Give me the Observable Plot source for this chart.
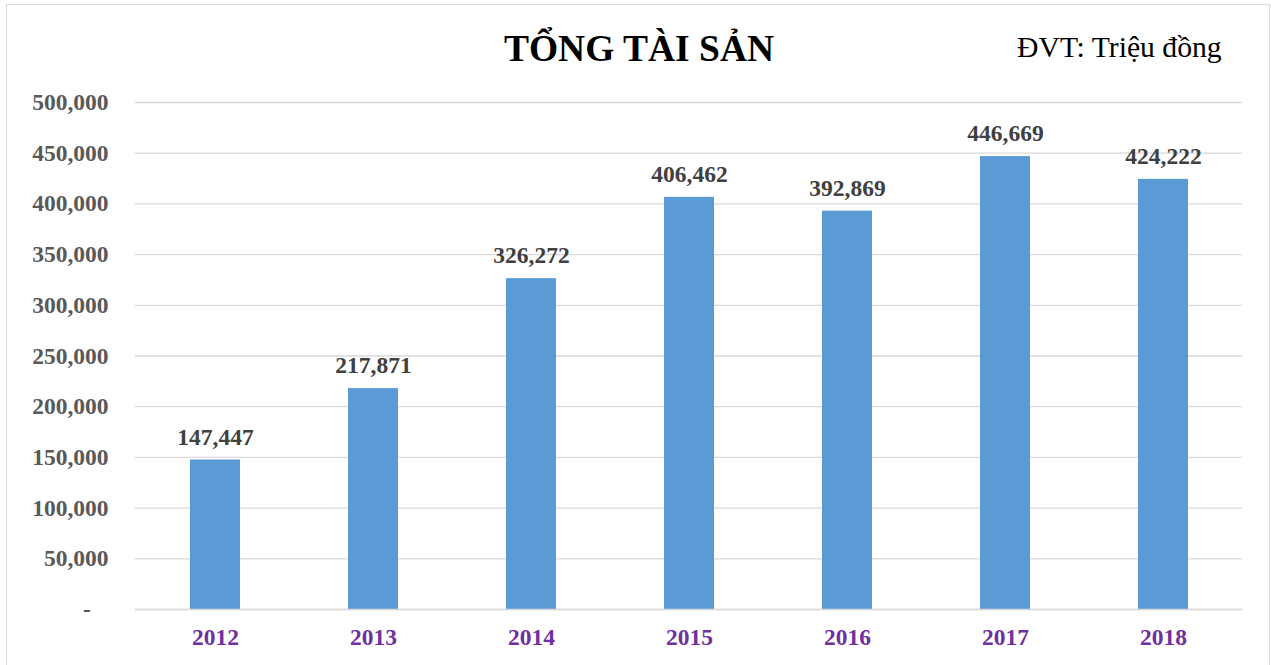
<!DOCTYPE html>
<html><head><meta charset="utf-8">
<script src="https://cdn.jsdelivr.net/npm/d3@7"></script>
<script src="https://cdn.jsdelivr.net/npm/@observablehq/plot@0.6"></script>
<style>
body{margin:0;background:#fff}
#wrap{position:relative;width:1271px;height:665px;overflow:hidden;font-family:"Liberation Serif","Times New Roman",serif}
#frame{position:absolute;left:6px;top:4px;width:1264px;height:720px;border:1.5px solid #d9d9d9;box-sizing:border-box;pointer-events:none}
#title{position:absolute;left:639px;top:30px;transform:translateX(-50%);font-size:37.5px;font-weight:bold;line-height:1;color:#000;white-space:nowrap}
#unit{position:absolute;left:1017px;top:33px;font-size:29.7px;line-height:1;color:#000;white-space:nowrap}
#chart{position:absolute;left:0;top:0}
</style></head>
<body>
<div id="wrap">
<div id="chart"></div>
<div id="title">TỔNG TÀI SẢN</div>
<div id="unit">ĐVT: Triệu đồng</div>
<div id="frame"></div>
</div>
<script>
const years = ["2012","2013","2014","2015","2016","2017","2018"];
const totalAssets = [147447, 217871, 326272, 406462, 392869, 446669, 424222];
const yTicks = [0, 50000, 100000, 150000, 200000, 250000, 300000, 350000, 400000, 450000, 500000];

const data = years.map((y, i) => ({year: y, value: totalAssets[i]}));
const fmt = d3.format(",");

const chart = Plot.plot({
  width: 1271,
  height: 665,
  marginLeft: 135,
  marginRight: 29,
  marginTop: 102,
  marginBottom: 56,
  style: {fontFamily: '"Liberation Serif","Times New Roman",serif', background: "transparent"},
  x: {domain: years, paddingInner: 0.684, paddingOuter: 0.342, label: null},
  y: {domain: [0, 500000], label: null},
  marks: [
    Plot.gridY(yTicks, {stroke: "#d9d9d9", strokeOpacity: 1, strokeWidth: 1.3}),
    Plot.barY(data, {x: "year", y: "value", fill: "#5b9bd5"}),
    Plot.ruleY([0], {stroke: "#d9d9d9", strokeWidth: 1.5}),
    Plot.text(data, {x: "year", y: "value", text: d => fmt(d.value), dy: -23, fontSize: 23.5, fontWeight: "bold", fill: "#404040"}),
    Plot.axisY({ticks: yTicks, tickSize: 0, tickPadding: 27, fontSize: 23.5, fontWeight: "bold", color: "#595959",
      tickFormat: d => d === 0 ? "-\u00a0\u00a0\u00a0" : fmt(d)}),
    Plot.axisX({tickSize: 0, tickPadding: 19, fontSize: 23.5, fontWeight: "bold", color: "#7030a0"})
  ]
});
document.getElementById("chart").appendChild(chart);
</script>
</body></html>
